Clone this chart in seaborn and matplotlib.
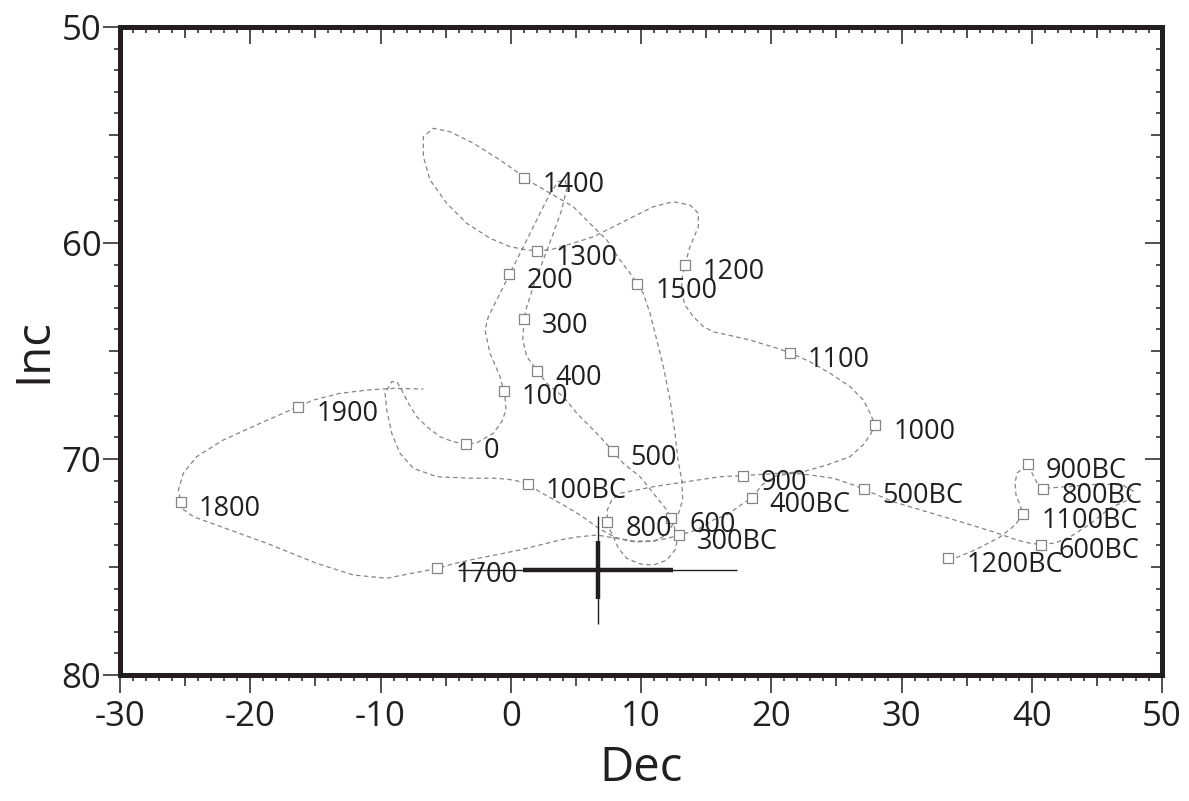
import matplotlib
matplotlib.use('Agg')
import pandas as pd
import seaborn as sns
import matplotlib.pyplot as plt
from matplotlib.ticker import MultipleLocator, FuncFormatter, NullFormatter

# dated points (Dec, Inc)
point_labels = ['1200BC', '1100BC', '900BC', '800BC', '600BC', '500BC', '400BC', '300BC',
                '100BC', '0', '100', '200', '300', '400', '500', '600', '800', '900',
                '1000', '1100', '1200', '1300', '1400', '1500', '1700', '1800', '1900']
point_dec = [33.60, 39.35, 39.69, 40.89, 40.69, 27.12, 18.50, 12.90,
             1.29, -3.46, -0.55, -0.13, 1.02, 2.04, 7.83, 12.31, 7.41, 17.81,
             27.97, 21.44, 13.36, 2.04, 1.02, 9.72, -5.64, -25.32, -16.33]
point_inc = [74.60, 72.55, 70.23, 71.39, 73.96, 71.40, 71.82, 73.53,
             71.14, 69.31, 66.83, 61.44, 63.52, 65.91, 69.62, 72.73, 72.90, 70.77,
             68.43, 65.08, 61.03, 60.36, 56.99, 61.91, 75.06, 71.98, 67.58]

# the dashed secular variation curve, traced in time order (1200BC -> present)
curve_dec = [33.60, 34.34, 35.65, 37.57, 38.72, 39.35, 39.10, 38.79, 38.72, 38.87,
             39.69, 40.02, 40.41, 40.89, 41.41, 43.32, 45.24, 46.93, 47.78, 47.39,
             46.01, 44.48, 42.94, 41.79, 40.69, 39.87, 38.85, 37.05, 34.50, 31.94,
             29.37, 27.84, 27.12, 26.30, 24.77, 22.98, 21.70, 20.29, 19.29, 18.50,
             17.86, 16.58, 15.55, 14.28, 12.90, 11.85, 10.69, 9.39, 8.16, 7.39,
             6.62, 5.32, 3.78, 2.25, 1.29, 0.20, -1.08, -3.13, -5.68, -7.48,
             -8.50, -9.14, -9.52, -9.65, -9.14, -8.75, -8.37, -7.86, -7.22, -6.45,
             -5.43, -4.41, -3.46, -2.61, -1.34, -0.69, -0.36, -0.44, -0.55, -0.82,
             -1.59, -1.98, -1.72, -0.82, -0.31, -0.13, 0.33, 1.23, 2.25, 3.02,
             3.65, 4.17, 4.32, 4.09, 3.91, 3.27, 2.50, 1.73, 1.23, 1.02,
             0.92, 1.23, 2.04, 2.76, 4.04, 5.07, 6.09, 6.85, 7.83, 8.64,
             9.93, 10.95, 11.98, 12.31, 12.54, 12.79, 12.61, 11.98, 10.95, 9.93,
             8.90, 8.26, 7.93, 7.62, 7.41, 7.41, 7.75, 8.39, 10.95, 13.51,
             16.07, 17.81, 19.91, 22.44, 24.26, 26.05, 27.05, 27.59, 27.97, 27.59,
             27.07, 26.05, 24.51, 22.98, 21.44, 20.42, 18.37, 15.55, 14.79, 14.02,
             13.38, 13.13, 13.13, 13.36, 13.76, 14.40, 14.40, 13.76, 12.48, 10.95,
             9.41, 7.88, 6.34, 4.80, 3.02, 2.04, 1.23, -0.06, -1.59, -3.38,
             -4.92, -6.20, -6.71, -6.71, -5.94, -4.66, -2.87, -0.82, 0.46, 1.02,
             1.73, 3.02, 4.80, 6.34, 7.37, 8.39, 9.16, 9.72, 10.18, 10.69,
             11.21, 11.72, 12.23, 12.61, 12.84, 13.13, 13.20, 12.92, 12.46, 11.92,
             11.08, 9.54, 8.01, 6.62, 5.09, 3.78, 2.25, 0.71, -0.82, -2.36,
             -4.13, -5.64, -6.97, -9.52, -12.09, -14.90, -18.74, -22.58, -24.37, -25.26,
             -25.32, -25.52, -25.14, -24.11, -22.07, -19.25, -17.20, -16.33, -15.16, -13.11,
             -11.06, -9.02, -6.71]
curve_inc = [74.60, 74.54, 74.21, 73.61, 73.06, 72.55, 72.13, 71.67, 71.11, 70.65,
             70.23, 70.65, 71.11, 71.39, 71.34, 71.25, 71.16, 71.20, 71.48, 71.90,
             72.27, 73.01, 73.61, 73.89, 73.96, 73.90, 73.75, 73.37, 72.90, 72.44,
             71.98, 71.59, 71.40, 71.20, 70.89, 70.74, 70.66, 70.79, 71.20, 71.82,
             72.05, 72.59, 72.82, 73.29, 73.53, 73.70, 73.80, 73.80, 73.66, 73.43,
             73.15, 72.59, 72.04, 71.53, 71.14, 70.97, 70.89, 70.89, 70.82, 70.43,
             69.74, 68.81, 67.73, 66.96, 66.42, 66.42, 66.81, 67.42, 68.04, 68.50,
             68.97, 69.20, 69.31, 69.25, 68.81, 68.27, 67.73, 67.12, 66.83, 66.19,
             65.11, 64.03, 63.41, 62.33, 61.71, 61.44, 60.94, 59.86, 58.62, 57.70,
             57.16, 57.08, 57.45, 58.01, 58.47, 59.55, 60.79, 62.02, 62.95, 63.52,
             64.49, 65.26, 65.91, 66.50, 67.12, 67.88, 68.50, 68.97, 69.62, 70.20,
             70.82, 71.59, 72.36, 72.73, 73.13, 73.75, 74.21, 74.68, 74.91, 74.86,
             74.60, 74.13, 73.67, 73.29, 72.90, 72.36, 71.90, 71.59, 71.28, 71.05,
             70.82, 70.77, 70.69, 70.59, 70.28, 69.89, 69.35, 68.89, 68.43, 67.88,
             67.27, 66.65, 66.03, 65.50, 65.08, 64.87, 64.49, 64.11, 63.87, 63.41,
             62.87, 62.33, 61.71, 61.03, 60.17, 59.25, 58.62, 58.24, 58.09, 58.32,
             58.78, 59.25, 59.71, 60.01, 60.32, 60.36, 60.32, 60.17, 59.78, 59.09,
             58.16, 57.08, 56.00, 55.08, 54.69, 54.85, 55.38, 56.16, 56.70, 56.99,
             57.24, 57.70, 58.32, 59.25, 59.86, 60.79, 61.40, 61.91, 62.33, 63.25,
             64.49, 65.73, 67.27, 68.81, 70.05, 70.97, 71.90, 72.45, 73.01, 73.52,
             73.80, 73.84, 73.66, 73.52, 73.61, 73.75, 73.98, 74.21, 74.40, 74.58,
             74.81, 75.06, 75.22, 75.52, 75.37, 74.83, 73.90, 73.06, 72.67, 72.28,
             71.98, 71.44, 70.66, 69.89, 69.12, 68.35, 67.81, 67.58, 67.27, 66.96,
             66.81, 66.73, 66.76]

# site mean with its two error ranges
site_dec, site_inc = 6.68, 75.14
outer_err_dec, outer_err_inc = 10.7, 2.5
inner_err_dec, inner_err_inc = 5.75, 1.35

ink = '#231f20'
grey = '#858585'

sns.set_style('white')
plt.rcParams['font.family'] = ['Open Sans', 'DejaVu Sans']

fig = plt.figure(figsize=(11.89, 8.01), dpi=100)
ax = fig.add_axes([120 / 1189, 1 - 675 / 801, 1042 / 1189, 648 / 801])

curve = pd.DataFrame({'Dec': curve_dec, 'Inc': curve_inc})
sns.lineplot(data=curve, x='Dec', y='Inc', sort=False, estimator=None,
             color=grey, linewidth=0.9, ax=ax)
ax.lines[-1].set_dashes([3.6, 2.6])

ax.errorbar(site_dec, site_inc, xerr=outer_err_dec, yerr=outer_err_inc,
            fmt='none', ecolor=ink, elinewidth=1.0, capsize=0, zorder=4)
ax.errorbar(site_dec, site_inc, xerr=inner_err_dec, yerr=inner_err_inc,
            fmt='none', ecolor=ink, elinewidth=3.2, capsize=0, zorder=4)

pts = pd.DataFrame({'Dec': point_dec, 'Inc': point_inc})
sns.scatterplot(data=pts, x='Dec', y='Inc', marker='s', s=42, color='white',
                edgecolor=grey, linewidth=0.9, zorder=5, ax=ax)

for lab, x, y in zip(point_labels, point_dec, point_inc):
    ax.annotate(lab, (x, y), xytext=(13, -5), textcoords='offset points',
                fontsize=19.5, color=ink, ha='left', va='center', zorder=6)

ax.set_xlim(-30, 50)
ax.set_ylim(80, 50)

ten_only = FuncFormatter(lambda v, p: f'{v:.0f}' if round(v) % 10 == 0 else '')
for axis in (ax.xaxis, ax.yaxis):
    axis.set_major_locator(MultipleLocator(5))
    axis.set_minor_locator(MultipleLocator(1))
    axis.set_major_formatter(ten_only)

ax.tick_params(which='both', direction='out', top=False, right=False,
               color=ink, width=1.1, labelcolor=ink, labelsize=25)
ax.tick_params(axis='x', which='major', length=13, pad=5)
ax.tick_params(axis='y', which='major', length=12, pad=1.5)
ax.tick_params(which='minor', length=4)

for s in ax.spines.values():
    s.set_linewidth(3.6)
    s.set_color(ink)

# top and right ticks point inwards
ax_top = ax.twiny()
ax_top.set_xlim(-30, 50)
ax_right = ax.twinx()
ax_right.set_ylim(80, 50)
for tw, axis in ((ax_top, ax_top.xaxis), (ax_right, ax_right.yaxis)):
    axis.set_major_locator(MultipleLocator(5))
    axis.set_minor_locator(MultipleLocator(1))
    axis.set_major_formatter(NullFormatter())
    tw.tick_params(which='both', direction='in', color=ink, width=1.1)
    tw.tick_params(which='major', length=12)
    tw.tick_params(which='minor', length=4)
    for s in tw.spines.values():
        s.set_visible(False)

ax.set_xlabel('Dec', fontsize=34, color=ink)
ax.set_ylabel('Inc', fontsize=34, color=ink)
ax.xaxis.set_label_coords(0.5, -0.108)
ax.yaxis.set_label_coords(-0.06, 0.5)

fig.canvas.draw()
# the 5s get a shorter tick than the 10s
for axis in (ax.xaxis, ax.yaxis, ax_top.xaxis, ax_right.yaxis):
    for t in axis.get_major_ticks():
        if round(t.get_loc()) % 10 != 0:
            t.tick1line.set_markersize(8)
            t.tick2line.set_markersize(8)

fig.savefig('out.png', dpi=100)
